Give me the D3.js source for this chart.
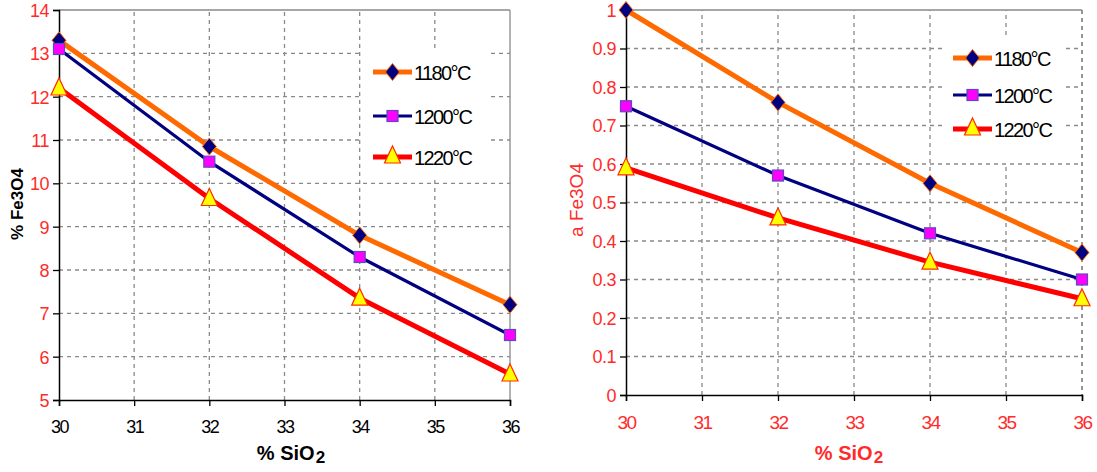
<!DOCTYPE html>
<html><head><meta charset="utf-8">
<script src="https://cdn.jsdelivr.net/npm/d3@7"></script>
<style>body{margin:0;background:#fff}svg{display:block}</style>
</head><body>
<svg id="c" width="1097" height="472"></svg>
<script>
// ---- data ----
const siO2 = [30, 32, 34, 36];
const seriesNames = ["1180°C", "1200°C", "1220°C"];
const fe3o4_1180 = [13.3, 10.85, 8.8, 7.2];
const fe3o4_1200 = [13.1, 10.5, 8.3, 6.5];
const fe3o4_1220 = [12.2, 9.65, 7.35, 5.6];
const aFe3o4_1180 = [1.0, 0.76, 0.55, 0.37];
const aFe3o4_1200 = [0.75, 0.57, 0.42, 0.30];
const aFe3o4_1220 = [0.59, 0.46, 0.345, 0.25];
const xTicks = [30, 31, 32, 33, 34, 35, 36];
const leftYTicks = [5, 6, 7, 8, 9, 10, 11, 12, 13, 14];
const rightYTicks = [0, 0.1, 0.2, 0.3, 0.4, 0.5, 0.6, 0.7, 0.8, 0.9, 1];

const styles = [
  {line: "#ff6a00", w: 5, marker: "diamond", fill: "#000080", stroke: "#ff6a00"},
  {line: "#000080", w: 3.2, marker: "square", fill: "#ff00ff", stroke: "#5a4cc0"},
  {line: "#ff0000", w: 5, marker: "triangle", fill: "#ffff00", stroke: "#ff2a00"}
];

const svg = d3.select("#c");
const RED = "#ff2b2b";
const FONT = "Liberation Sans, Arial, sans-serif";

function marker(g, type, x, y, st) {
  if (type === "diamond") {
    g.append("path").attr("d", `M${x},${y-8.5}L${x+7},${y}L${x},${y+8.5}L${x-7},${y}Z`)
      .attr("fill", st.fill).attr("stroke", st.stroke).attr("stroke-width", 1);
  } else if (type === "square") {
    g.append("rect").attr("x", x-5.5).attr("y", y-5.5).attr("width", 11).attr("height", 11)
      .attr("fill", st.fill).attr("stroke", st.stroke).attr("stroke-width", 1.2);
  } else {
    g.append("path").attr("d", `M${x},${y-10}L${x+8},${y+7}L${x-8},${y+7}Z`)
      .attr("fill", st.fill).attr("stroke", st.stroke).attr("stroke-width", 1.2);
  }
}

function chart(cfg) {
  const x = d3.scaleLinear().domain([30, 36]).range([cfg.x0, cfg.x1]);
  const y = d3.scaleLinear().domain(cfg.yDomain).range([cfg.y0, cfg.y1]);
  const g = svg.append("g");

  // grid
  const grid = g.append("g").attr("stroke", "#8a8a8a").attr("stroke-width", 1.3).attr("stroke-dasharray", "4,4");
  cfg.yTicks.slice(1, -1).forEach(t => grid.append("line")
    .attr("x1", cfg.x0).attr("x2", cfg.x1).attr("y1", y(t)).attr("y2", y(t)));
  xTicks.slice(1, -1).forEach(t => grid.append("line")
    .attr("x1", x(t)).attr("x2", x(t)).attr("y1", cfg.y0).attr("y2", cfg.y1));
  // frame top/right
  g.append("line").attr("x1", cfg.x0).attr("x2", cfg.x1).attr("y1", cfg.y1).attr("y2", cfg.y1)
    .attr("stroke", "#8a8a8a").attr("stroke-width", 1.3);
  g.append("line").attr("x1", cfg.x1).attr("x2", cfg.x1).attr("y1", cfg.y1).attr("y2", cfg.y0)
    .attr("stroke", "#8a8a8a").attr("stroke-width", cfg.rightDashed ? 1.8 : 1.3)
    .attr("stroke-dasharray", cfg.rightDashed ? "4,4" : null);

  // axes
  const yAxis = g.append("g").attr("transform", `translate(${cfg.x0},0)`)
    .call(d3.axisLeft(y).tickValues(cfg.yTicks).tickSize(6).tickPadding(4).tickFormat(d3.format("~g")));
  yAxis.select(".domain").attr("stroke", "#000").attr("stroke-width", 1.5);
  yAxis.selectAll(".tick line").attr("stroke", "#000").attr("stroke-width", 1.3);
  yAxis.selectAll(".tick text").attr("fill", RED).attr("font-family", FONT)
    .attr("font-size", cfg.yFont).attr("letter-spacing", "-0.5px").attr("dy", "0.36em");

  const xAxis = g.append("g").attr("transform", `translate(0,${cfg.y0})`)
    .call(d3.axisBottom(x).tickValues(xTicks).tickSize(6).tickPadding(cfg.xPad).tickFormat(d3.format("d")));
  xAxis.select(".domain").attr("stroke", "#000").attr("stroke-width", 1.5);
  xAxis.selectAll(".tick line").attr("stroke", "#000").attr("stroke-width", 1.3);
  xAxis.selectAll(".tick text").attr("fill", cfg.xTickColor).attr("font-family", FONT)
    .attr("font-size", cfg.xFont).attr("letter-spacing", "-1.5px");

  // series
  const line = d3.line().x((d, i) => x(siO2[i])).y(d => y(d));
  cfg.series.forEach((vals, k) => {
    g.append("path").attr("d", line(vals)).attr("fill", "none")
      .attr("stroke", styles[k].line).attr("stroke-width", styles[k].w).attr("stroke-linejoin", "round");
  });
  cfg.series.forEach((vals, k) => {
    vals.forEach((v, i) => marker(g, styles[k].marker, x(siO2[i]), y(v), styles[k]));
  });

  // legend
  const L = cfg.legend;
  g.append("rect").attr("x", L.bx).attr("y", L.by).attr("width", L.bw).attr("height", L.bh).attr("fill", "#fff");
  seriesNames.forEach((name, k) => {
    const ly = L.y[k];
    g.append("line").attr("x1", L.x).attr("x2", L.x + 39).attr("y1", ly).attr("y2", ly)
      .attr("stroke", styles[k].line).attr("stroke-width", styles[k].w);
    marker(g, styles[k].marker, L.x + 19.5, ly + (styles[k].marker === "triangle" ? -1 : 0), styles[k]);
    g.append("text").attr("x", L.x + 41).attr("y", ly + 7.5).text(name)
      .attr("font-family", FONT).attr("font-size", 20)
      .attr("letter-spacing", "-1.6px").attr("fill", "#000");
  });

  // x title
  const xt = g.append("text").attr("x", cfg.xTitleX).attr("y", 460).attr("text-anchor", "middle")
    .attr("font-family", FONT).attr("font-weight", "bold")
    .attr("font-size", 20).attr("fill", cfg.xTitleColor);
  xt.append("tspan").text("% SiO");
  xt.append("tspan").text("2").attr("font-size", 17).attr("dy", 3).attr("dx", 1);

  // y title
  g.append("text").attr("transform", `translate(${cfg.yTitleX},${cfg.yTitleY}) rotate(-90)`)
    .attr("text-anchor", "middle").attr("font-family", FONT)
    .attr("font-weight", cfg.yTitleBold ? "bold" : "normal").attr("font-size", cfg.yTitleFont)
    .attr("fill", cfg.yTitleColor).text(cfg.yTitle);
}

chart({
  x0: 59, x1: 510, y0: 400, y1: 10, yDomain: [5, 14], yTicks: leftYTicks,
  series: [fe3o4_1180, fe3o4_1200, fe3o4_1220],
  yFont: 18, xFont: 18, xPad: 14, xTickColor: "#000", rightDashed: false,
  legend: {bx: 362, by: 48, bw: 128, bh: 130, x: 373, y: [72, 116, 157]},
  xTitleX: 291, xTitleColor: "#000",
  yTitle: "% Fe3O4", yTitleX: 23, yTitleY: 204, yTitleBold: true, yTitleFont: 17, yTitleColor: "#000"
});
chart({
  x0: 626, x1: 1082, y0: 395, y1: 10, yDomain: [0, 1], yTicks: rightYTicks,
  series: [aFe3o4_1180, aFe3o4_1200, aFe3o4_1220],
  yFont: 18, xFont: 19, xPad: 15, xTickColor: RED, rightDashed: true,
  legend: {bx: 943, by: 36, bw: 120, bh: 127, x: 953, y: [58, 95, 129]},
  xTitleX: 849, xTitleColor: RED,
  yTitle: "a Fe3O4", yTitleX: 583, yTitleY: 200, yTitleBold: false, yTitleFont: 19, yTitleColor: RED
});
</script>
</body></html>
